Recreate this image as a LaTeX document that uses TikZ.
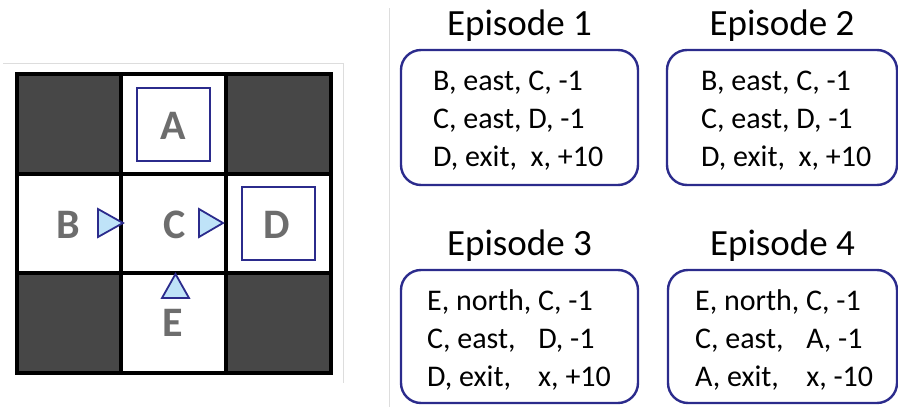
\documentclass[tikz,border=0pt]{standalone}
\usepackage{fontspec}
\setmainfont{Carlito}
\usepackage{calc}
\definecolor{navyc}{HTML}{2B2B8C}
\definecolor{darkcell}{HTML}{474747}
\definecolor{lettergray}{HTML}{6D6D6D}
\definecolor{trifill}{HTML}{BFE3F8}
\definecolor{faint}{HTML}{DDDDDD}
\begin{document}
\begin{tikzpicture}[x=1pt,y=-1pt,
  gridline/.style={draw=black, line width=3.5pt},
  darkfill/.style={fill=darkcell},
  cellletter/.style={inner sep=0pt, text=lettergray, font=\fontsize{42}{42}\selectfont\bfseries},
  termsq/.style={draw=navyc, line width=2.2pt},
  arrowtri/.style={draw=navyc, fill=trifill, line width=1.8pt, line join=miter},
  epbox/.style={draw=navyc, line width=2.4pt, rounded corners=20pt, rectangle, inner sep=0pt},
  eptitle/.style={inner sep=0pt, anchor=base, font=\fontsize{37}{37}\selectfont},
  epline/.style={inner sep=0pt, anchor=base west, font=\fontsize{30}{30}\selectfont},
  faintline/.style={draw=faint, line width=0.8pt}]
\useasboundingbox (0,0) rectangle (898,407);
% faint frame and separator
\draw[faintline] (3,63) -- (343,63) -- (343,383);
\draw[faintline] (389,8) -- (389,407);
% grid
\fill[darkfill] (17,74) rectangle (121,174);
\fill[darkfill] (226,74) rectangle (331,174);
\fill[darkfill] (17,273) rectangle (121,373);
\fill[darkfill] (226,273) rectangle (331,373);
\draw[gridline] (17,74) rectangle (331,373);
\draw[gridline] (121,74) -- (121,373);
\draw[gridline] (226,74) -- (226,373);
\draw[gridline] (17,174) -- (331,174);
\draw[gridline] (17,273) -- (331,273);
% terminal squares
\draw[termsq] (137,88) rectangle (210,161);
\draw[termsq] (242,187) rectangle (315,260);
% letters
\node[cellletter] (lA) at (173,126) {A};
\node[cellletter] (lB) at (68,225) {B};
\node[cellletter] (lC) at (175,225) {C};
\node[cellletter] (lD) at (277,225) {D};
\node[cellletter] (lE) at (173,323) {E};
% arrows
\draw[arrowtri] (98,209) -- (123,223) -- (98,237) -- cycle;
\draw[arrowtri] (199,209) -- (223,223) -- (199,237) -- cycle;
\draw[arrowtri] (162,298) -- (175.5,274) -- (189,298) -- cycle;
% episode boxes
\node[epbox, minimum width=237pt, minimum height=135pt] (b1) at (519.5,117.5) {};
\node[epbox, minimum width=230pt, minimum height=135pt] (b2) at (782,117.5) {};
\node[epbox, minimum width=237pt, minimum height=133pt] (b3) at (519.5,336.5) {};
\node[epbox, minimum width=229pt, minimum height=133pt] (b4) at (782.5,336.5) {};
% titles
\node[eptitle] (t1) at (519.5,35) {Episode 1};
\node[eptitle] (t2) at (782,35) {Episode 2};
\node[eptitle] (t3) at (519.5,255) {Episode 3};
\node[eptitle] (t4) at (782.5,255) {Episode 4};
% episode 1
\node[epline] (e1a) at (433,90) {B, east, C, -1};
\node[epline] (e1b) at (433,128) {C, east, D, -1};
\node[epline] (e1c) at (433,166) {D, exit,\ \ x, +10};
% episode 2
\node[epline] (e2a) at (701,90) {B, east, C, -1};
\node[epline] (e2b) at (701,128) {C, east, D, -1};
\node[epline] (e2c) at (701,166) {D, exit,\ \ x, +10};
% episode 3
\node[epline] (e3a) at (427,310) {E, north, C, -1};
\node[epline] (e3b) at (427,348) {\makebox[\widthof{E, north,\ }][l]{C, east,}D, -1};
\node[epline] (e3c) at (427,386) {\makebox[\widthof{E, north,\ }][l]{D, exit,}x, +10};
% episode 4
\node[epline] (e4a) at (695,310) {E, north, C, -1};
\node[epline] (e4b) at (695,348) {\makebox[\widthof{E, north,\ }][l]{C, east,}A, -1};
\node[epline] (e4c) at (695,386) {\makebox[\widthof{E, north,\ }][l]{A, exit,}x, -10};
\end{tikzpicture}
\end{document}
